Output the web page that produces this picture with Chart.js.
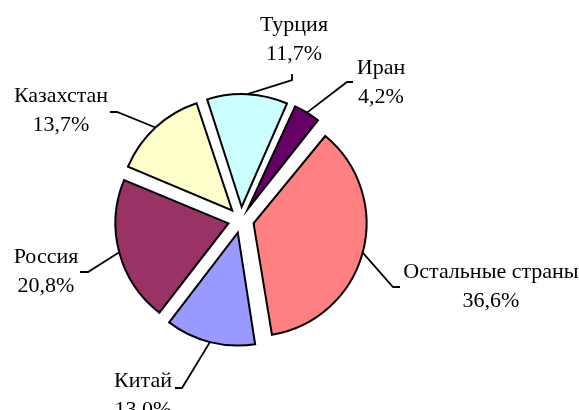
<!DOCTYPE html>
<html>
<head>
<meta charset="utf-8">
<script src="https://cdn.jsdelivr.net/npm/chart.js@4"></script>
<style>
  html, body { margin: 0; padding: 0; background: #fff; }
  #wrap { width: 579px; height: 410px; }
</style>
</head>
<body>
<div id="wrap"><canvas id="myChart" width="579" height="410"></canvas></div>
<script>
// data, clockwise from the Иран slice
var countries = ["Иран", "Остальные страны", "Китай", "Россия", "Казахстан", "Турция"];
var shares = [4.2, 36.6, 13.0, 20.8, 13.7, 11.7];
var colors = ["#660066", "#FF8080", "#9999FF", "#993366", "#FFFFCC", "#CCFFFF"];

// where each label sits: text centre x, baseline of first line, leader elbow and end
var labelPos = [
  { x: 381, y: 74, elbow: [347, 82], end: [353, 82] },
  { x: 491, y: 278, elbow: [393, 287], end: [400, 287] },
  { x: 143, y: 387, elbow: [182, 388], end: [175, 388] },
  { x: 46, y: 263, elbow: [88, 272], end: [80, 272] },
  { x: 61, y: 102, elbow: [117, 112], end: [110, 112] },
  { x: 294, y: 31, elbow: [292, 80], end: [292, 74] }
];

var pieRadius = 113;
var explode = 52; // chart.js moves each arc by offset / 4

function fmt(v) {
  return v.toFixed(1).replace(".", ",") + "%";
}

// chart.js also grows narrow exploded slices; keep all radii equal like excel does
var equalRadius = {
  id: 'equalRadius',
  beforeDatasetsDraw: function(chart) {
    chart.getDatasetMeta(0).data.forEach(function(arc) {
      var fix = 1 - Math.sin(Math.min(Math.PI, arc.circumference));
      arc.outerRadius = pieRadius - (explode / 4) * fix;
    });
  }
};

var outsideLabels = {
  id: 'outsideLabels',
  afterDraw: function(chart) {
    var ctx = chart.ctx;
    var arcs = chart.getDatasetMeta(0).data;
    ctx.save();
    ctx.strokeStyle = "#000";
    ctx.lineWidth = 1.8;
    ctx.fillStyle = "#000";
    ctx.font = '22px "Liberation Serif", "Times New Roman", serif';
    ctx.textAlign = "center";
    ctx.textBaseline = "alphabetic";
    arcs.forEach(function(arc, i) {
      var mid = (arc.startAngle + arc.endAngle) / 2;
      var r = pieRadius + explode / 4;
      var sx = arc.x + Math.cos(mid) * r;
      var sy = arc.y + Math.sin(mid) * r;
      var lp = labelPos[i];
      ctx.beginPath();
      ctx.moveTo(sx, sy);
      ctx.lineTo(lp.elbow[0], lp.elbow[1]);
      ctx.lineTo(lp.end[0], lp.end[1]);
      ctx.stroke();
      ctx.fillText(countries[i], lp.x, lp.y);
      ctx.fillText(fmt(shares[i]), lp.x, lp.y + 29);
    });
    ctx.restore();
  }
};

var ctx = document.getElementById('myChart').getContext('2d');
var myChart = new Chart(ctx, {
  type: 'pie',
  data: {
    labels: countries,
    datasets: [{
      data: shares,
      backgroundColor: colors,
      borderColor: "#000",
      borderWidth: 2,
      borderJoinStyle: 'miter',
      offset: explode
    }]
  },
  options: {
    responsive: false,
    animation: false,
    rotation: 24,
    radius: pieRadius,
    layout: { padding: { left: 0, right: 97, top: 30, bottom: 0 } },
    plugins: {
      legend: { display: false },
      tooltip: { enabled: false }
    }
  },
  plugins: [equalRadius, outsideLabels]
});
</script>
</body>
</html>
